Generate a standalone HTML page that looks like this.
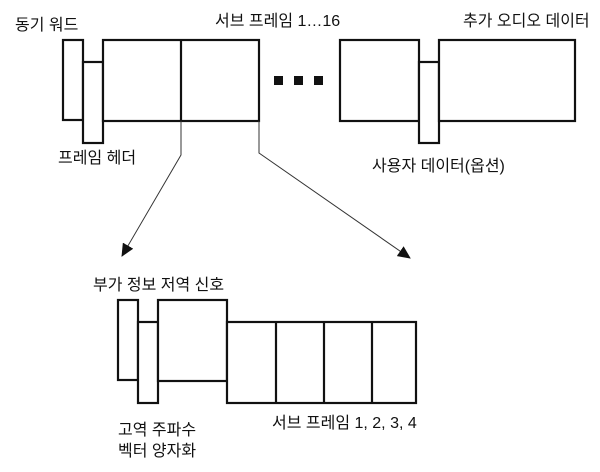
<!DOCTYPE html>
<html><head><meta charset="utf-8"><style>
html,body{margin:0;padding:0;background:#fff;width:600px;height:472px;overflow:hidden}
svg text{font-family:"Liberation Sans","Noto Sans CJK KR",sans-serif;font-size:16px;fill:#111}
</style></head><body>
<svg width="600" height="472" viewBox="0 0 600 472" xmlns="http://www.w3.org/2000/svg">
<defs><marker id="a" markerWidth="13" markerHeight="12" refX="12" refY="6" orient="auto" markerUnits="userSpaceOnUse"><path d="M0,0 L13,6 L0,12 z" fill="#111"/></marker></defs>
<g fill="#fff" stroke="#111" stroke-width="2.2">
<rect x="63" y="40" width="20" height="80"/>
<rect x="83" y="62" width="20" height="81"/>
<rect x="103" y="40" width="156" height="81"/>
<line x1="181" y1="40" x2="181" y2="121"/>
<rect x="340" y="40" width="79" height="81"/>
<rect x="419" y="62" width="20" height="81"/>
<rect x="439" y="40" width="136" height="81"/>
<rect x="118" y="300" width="20" height="80"/>
<rect x="138" y="322" width="20" height="81"/>
<rect x="158" y="300" width="69" height="81"/>
<rect x="227" y="322" width="189" height="81"/>
<line x1="276" y1="322" x2="276" y2="403"/>
<line x1="324" y1="322" x2="324" y2="403"/>
<line x1="372" y1="322" x2="372" y2="403"/>
</g>
<g fill="#111"><rect x="274" y="76" width="9" height="9"/><rect x="294" y="76" width="9" height="9"/><rect x="314" y="76" width="9" height="9"/></g>
<g fill="none" stroke="#333" stroke-width="1">
<polyline points="181,121 181,155 122,256" marker-end="url(#a)"/>
<polyline points="259,121 259,153 410,258" marker-end="url(#a)"/>
</g>
<text x="15" y="30">동기 워드</text>
<text x="215" y="26">서브 프레임 1…16</text>
<text x="463" y="26">추가 오디오 데이터</text>
<text x="58" y="163">프레임 헤더</text>
<text x="372" y="171">사용자 데이터(옵션)</text>
<text x="93" y="290">부가 정보 저역 신호</text>
<text x="272" y="428">서브 프레임 1, 2, 3, 4</text>
<text x="118" y="435">고역 주파수</text>
<text x="118" y="456">벡터 양자화</text>
</svg>
</body></html>
